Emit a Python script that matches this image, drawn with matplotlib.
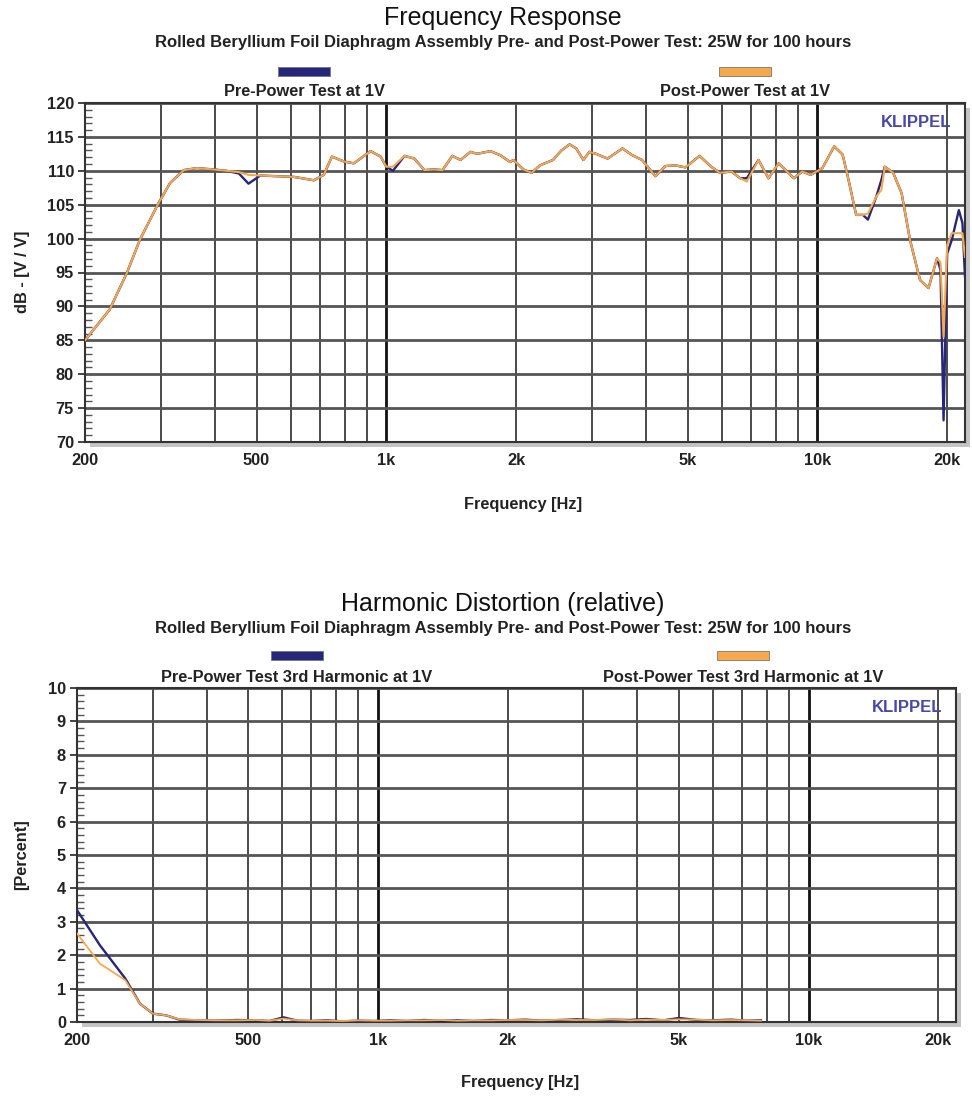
import matplotlib
matplotlib.use("Agg")
import matplotlib.pyplot as plt
from matplotlib.patches import Rectangle
from matplotlib.ticker import FixedLocator, MultipleLocator, NullFormatter

plt.rcParams['font.family'] = ['Liberation Sans', 'DejaVu Sans']

# ---- frequency response data ----
fr_hz = [200, 228, 250, 268, 296, 315, 339, 363, 397, 426, 455, 479, 510, 560, 611,
         679, 716, 748, 795, 841, 919, 970, 1000, 1036, 1102, 1162, 1225, 1290, 1350,
         1423, 1487, 1568, 1624, 1744, 1838, 1937, 1972, 2079, 2174, 2271, 2436, 2548,
         2662, 2757, 2866, 2958, 3066, 3260, 3530, 3720, 3920, 4210, 4440, 4680, 4940,
         5330, 5670, 5940, 6320, 6620, 6860, 7300, 7700, 8130, 8820, 9220, 9650, 10270,
         10940, 11440, 11760, 12300, 12750, 13100, 13700, 14080, 14330, 14990, 15680,
         16400, 17300, 18100, 18950, 19300, 19620, 20000, 20500, 21290, 21700, 22000]
pre_db = [85.0, 89.5, 94.9, 99.8, 105.2, 108.2, 110.1, 110.4, 110.2, 110.0, 109.6, 108.1,
          109.3, 109.2, 109.1, 108.6, 109.4, 112.1, 111.4, 111.1, 112.9, 112.1, 110.6,
          110.0, 112.2, 111.8, 110.1, 110.2, 110.1, 112.2, 111.6, 112.8, 112.5, 112.9,
          112.3, 111.3, 111.6, 110.2, 109.7, 110.8, 111.6, 113.0, 113.9, 113.3, 111.6,
          112.8, 112.5, 111.8, 113.3, 112.3, 111.6, 109.2, 110.7, 110.8, 110.5, 112.2,
          110.6, 109.7, 109.9, 108.9, 108.9, 111.6, 108.9, 111.1, 108.9, 109.9, 109.4,
          110.4, 113.6, 112.4, 109.2, 103.5, 103.5, 102.8, 106.2, 108.7, 110.6, 109.7,
          106.7, 99.8, 93.9, 92.7, 97.1, 95.4, 73.2, 97.8, 99.8, 104.2, 102.3, 94.4]
post_db = [85.0, 89.5, 94.9, 99.8, 105.2, 108.2, 110.1, 110.4, 110.2, 110.0, 109.8, 109.4,
           109.3, 109.2, 109.1, 108.6, 109.4, 112.1, 111.4, 111.1, 112.9, 112.1, 110.6,
           110.6, 112.2, 111.8, 110.1, 110.2, 110.1, 112.2, 111.6, 112.8, 112.5, 112.9,
           112.3, 111.3, 111.6, 110.2, 109.7, 110.8, 111.6, 113.0, 113.9, 113.3, 111.6,
           112.8, 112.5, 111.8, 113.3, 112.3, 111.6, 109.2, 110.7, 110.8, 110.5, 112.2,
           110.6, 109.7, 109.9, 108.9, 108.4, 111.6, 108.9, 111.1, 108.9, 109.9, 109.4,
           110.4, 113.6, 112.4, 109.2, 103.5, 103.5, 103.7, 106.2, 107.2, 110.6, 109.7,
           106.7, 99.8, 93.9, 92.7, 97.1, 96.5, 85.5, 99.0, 100.8, 100.8, 100.8, 97.3]

# ---- 3rd harmonic distortion data ----
hd_hz = [200, 226, 259, 280, 300, 322, 346, 380, 420, 470, 520, 560, 603, 650, 700, 760,
         830, 900, 980, 1070, 1170, 1280, 1400, 1530, 1670, 1830, 2000, 2200, 2400, 2650,
         2900, 3200, 3500, 3850, 4200, 4600, 5000, 5500, 6000, 6600, 7200, 7750]
pre_hd = [3.35, 2.3, 1.3, 0.55, 0.25, 0.2, 0.07, 0.05, 0.04, 0.06, 0.05, 0.03, 0.14, 0.04,
          0.03, 0.05, 0.02, 0.04, 0.03, 0.05, 0.03, 0.06, 0.04, 0.05, 0.03, 0.06, 0.05,
          0.07, 0.04, 0.06, 0.08, 0.05, 0.07, 0.06, 0.09, 0.05, 0.12, 0.06, 0.05, 0.07,
          0.04, 0.05]
post_hd = [2.65, 1.75, 1.25, 0.55, 0.25, 0.2, 0.08, 0.06, 0.05, 0.05, 0.06, 0.04, 0.1, 0.05,
           0.04, 0.04, 0.03, 0.05, 0.04, 0.04, 0.05, 0.05, 0.06, 0.04, 0.05, 0.05, 0.06,
           0.06, 0.05, 0.07, 0.06, 0.06, 0.08, 0.05, 0.07, 0.06, 0.08, 0.07, 0.05, 0.06,
           0.05, 0.04]

x_ticks = [200, 500, 1000, 2000, 5000, 10000, 20000]
x_labels = ['200', '500', '1k', '2k', '5k', '10k', '20k']
grid_hz = [300, 400, 500, 600, 700, 800, 900, 2000, 3000, 4000, 5000, 6000, 7000,
           8000, 9000, 20000]
decade_hz = [1000, 10000]

subtitle = "Rolled Beryllium Foil Diaphragm Assembly Pre- and Post-Power Test: 25W for 100 hours"
PRE_C = '#26267a'
POST_C = '#f5a94c'
TXT = '#222222'
FS = 11.8
W, H = 972, 1099

fig = plt.figure(figsize=(W / 100, H / 100), dpi=100)


def px(x, y):
    return x / W, 1 - y / H


def panel(box, ylim, ystep, yminor):
    x0, y0, x1, y1 = box
    l, t = px(x0, y0)
    r, b = px(x1, y1)
    # drop shadow behind the plot box
    fig.add_artist(Rectangle((l + 5 / W, b - 5 / H), r - l, t - b, transform=fig.transFigure,
                             facecolor='#c4c4c4', edgecolor='none', zorder=-1))
    ax = fig.add_axes([l, b, r - l, t - b])
    ax.set_xscale('log')
    ax.set_xlim(200, 22000)
    ax.set_ylim(*ylim)
    for g in grid_hz:
        ax.axvline(g, color='#4a4a4a', lw=1.4, zorder=1)
    for g in decade_hz:
        ax.axvline(g, color='#111111', lw=2.0, zorder=1)
    ax.yaxis.set_major_locator(MultipleLocator(ystep))
    ax.yaxis.set_minor_locator(MultipleLocator(yminor))
    ax.grid(axis='y', which='major', color='#555555', lw=2.0, zorder=1)
    ax.xaxis.set_major_locator(FixedLocator(x_ticks))
    ax.set_xticklabels(x_labels)
    ax.xaxis.set_minor_formatter(NullFormatter())
    ax.tick_params(axis='x', which='both', length=0, pad=8, labelsize=FS)
    ax.tick_params(axis='y', which='major', direction='out', length=5, width=1.2,
                   labelsize=FS, pad=3, colors=TXT)
    ax.tick_params(axis='y', which='minor', direction='in', length=5, width=1.0,
                   color='#555555')
    for lab in ax.get_xticklabels() + ax.get_yticklabels():
        lab.set_fontweight('bold')
        lab.set_color(TXT)
    for s in ax.spines.values():
        s.set_color('#333333')
        s.set_linewidth(1.5)
    ax.text(0.985, 0.965, 'KLIPPEL', transform=ax.transAxes, ha='right', va='top',
            fontsize=12, fontweight='bold', color='#4848a8')
    return ax


def header(y_title, title, y_sub, y_box, y_lab, pre_lab, post_lab, pre_x, post_x):
    fig.text(*px(503, y_title), title, ha='center', va='center', fontsize=18, color='#111111')
    fig.text(*px(503, y_sub), subtitle, ha='center', va='center', fontsize=12,
             fontweight='bold', color=TXT)
    for cx, c, lab in ((pre_x, PRE_C, pre_lab), (post_x, POST_C, post_lab)):
        bx, by = px(cx - 26, y_box + 4)
        fig.add_artist(Rectangle((bx, by), 52 / W, 9 / H, transform=fig.transFigure,
                                 facecolor=c, edgecolor='#777777', lw=0.6))
        fig.text(*px(cx, y_lab), lab, ha='center', va='center', fontsize=FS,
                 fontweight='bold', color=TXT)


# ---- top: frequency response ----
header(18, 'Frequency Response', 43, 72, 92,
       'Pre-Power Test at 1V', 'Post-Power Test at 1V', 304, 745)
ax1 = panel((85, 103, 965, 442), (70, 120), 5, 1)
ax1.plot(fr_hz, pre_db, color=PRE_C, lw=1.7, zorder=3)
ax1.plot(fr_hz, post_db, color=POST_C, lw=1.5, zorder=4)
fig.text(*px(22, 272), 'dB - [V / V]', rotation=90, ha='center', va='center',
         fontsize=FS, fontweight='bold', color=TXT)
fig.text(*px(523, 504), 'Frequency [Hz]', ha='center', va='center', fontsize=FS,
         fontweight='bold', color=TXT)

# ---- bottom: harmonic distortion ----
header(604, 'Harmonic Distortion (relative)', 629, 656, 677,
       'Pre-Power Test 3rd Harmonic at 1V', 'Post-Power Test 3rd Harmonic at 1V', 297, 743)
ax2 = panel((77, 688, 956, 1022), (0, 10), 1, 0.2)
ax2.plot(hd_hz, pre_hd, color=PRE_C, lw=1.7, zorder=3)
ax2.plot(hd_hz, post_hd, color=POST_C, lw=1.3, zorder=4)
fig.text(*px(22, 855), '[Percent]', rotation=90, ha='center', va='center',
         fontsize=FS, fontweight='bold', color=TXT)
fig.text(*px(520, 1083), 'Frequency [Hz]', ha='center', va='center', fontsize=FS,
         fontweight='bold', color=TXT)

fig.savefig('out.png', dpi=100)
